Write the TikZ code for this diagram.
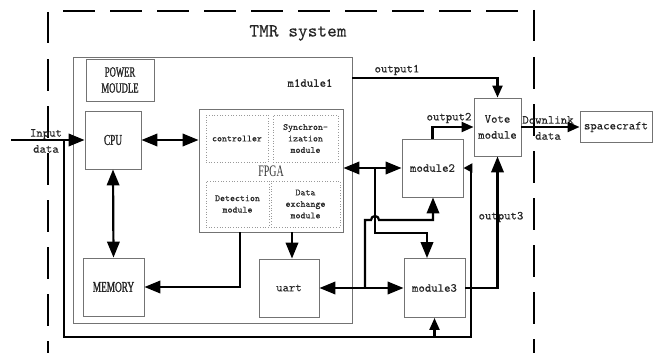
\documentclass[tikz,border=0pt]{standalone}
\usepackage{fontspec}
\newfontfamily\cserif[FakeStretch=0.62, FakeBold=1.2]{Liberation Serif}
\newfontfamily\fserif[FakeStretch=0.62]{Liberation Serif}
\newfontfamily\mymono[FakeBold=0.2]{lmmono10-regular.otf}
\usetikzlibrary{arrows.meta}
\begin{document}
\begin{tikzpicture}[x=1pt,y=-1pt,
  box/.style={draw=black!55, line width=0.9pt, inner sep=0pt, align=center, text=black!85},
  dbox/.style={draw=black!40, dotted, line width=0.7pt, inner sep=0pt, align=center, text=black!85,
               font=\mymono\fontsize{9.5}{11.5}\selectfont},
  mono/.style={inner sep=0pt, align=center, text=black!85, font=\mymono\fontsize{12.2}{16}\selectfont},
  serifc/.style={font=\cserif\fontsize{15}{16}\selectfont},
  frame/.style={line width=2.4pt, dash pattern=on 31.5pt off 15.5pt},
  wire/.style={line width=2.2pt, black},
  tip/.tip={Triangle[length=16pt,width=12.5pt]},
  stip/.tip={Triangle[length=12pt,width=10pt]}
]
\useasboundingbox (0,0) rectangle (655,353);

% dashed TMR frame
\draw[frame] (48,12) -- (48,353);
\draw[frame] (63,11) -- (518,11);
\draw[frame] (534,10) -- (534,353);
\node[mono, font=\mymono\fontsize{18.5}{20}\selectfont] (tmr) at (298,33) {TMR system};

% module1 and its parts
\node[box, minimum width=279, minimum height=266] (m1) at (212.5,190) {};
\node[mono] (m1l) at (310,83) {m1dule1};
\node[box, serifc, font=\cserif\fontsize{14}{16}\selectfont, minimum width=68, minimum height=42] (pow) at (120,80) {POWER\\MOUDLE};
\node[box, serifc, minimum width=56, minimum height=58] (cpu) at (113,140) {CPU};
\node[box, minimum width=144, minimum height=123] (fpga) at (271,170.5) {};
\node[inner sep=0pt, font=\fserif\fontsize{16}{16}\selectfont, text=black!80] (fpgal) at (271,171) {FPGA};
\node[dbox, minimum width=62, minimum height=47] (ctrl) at (237,138.5) {controller};
\node[dbox, minimum width=65, minimum height=47] (sync) at (305.5,138.5) {Synchron-\\ization\\module};
\node[dbox, minimum width=63, minimum height=46] (det) at (237.5,204) {Detection\\module};
\node[dbox, minimum width=69, minimum height=46] (dex) at (305.5,204) {Data\\exchange\\module};
\node[box, serifc, minimum width=61, minimum height=58] (mem) at (113.5,287) {MEMORY};
\node[box, mono, minimum width=60, minimum height=58] (uart) at (289,288) {uart};

% other modules
\node[box, mono, minimum width=61, minimum height=58] (mod2) at (432.5,168) {module2};
\node[box, mono, minimum width=61, minimum height=59] (mod3) at (434.5,288) {module3};
\node[box, mono, minimum width=47, minimum height=58] (vote) at (497.5,127) {Vote\\module};
\node[box, mono, minimum width=72, minimum height=31] (sc) at (616,127) {spacecraft};

% labels
\node[mono] (lin) at (46,141) {Input\\data};
\node[mono] (lo1) at (397,70) {output1};
\node[mono] (lo2) at (449,118) {output2};
\node[mono] (lo3) at (501,217) {output3};
\node[mono] (ldl) at (548,128) {Downlink\\data};

% coordinates
\coordinate (in) at (11,140);
\coordinate (b0) at (64,140);
\coordinate (b1) at (64,337);
\coordinate (b2) at (471,337);
\coordinate (o1) at (352,78);
\coordinate (j1) at (375,168);
\coordinate (j1a) at (375,233);
\coordinate (j1b) at (427,233);
\coordinate (j2) at (365,288);
\coordinate (j2a) at (365,220);
\coordinate (j2b) at (433,220);

% connectors
\draw[wire,-tip] (in) -- (cpu.west);
\draw[wire,tip-tip] (cpu.east) -- (fpga.west |- cpu.east);
\draw[wire,tip-tip] (cpu.south) -- (mem.north);
\draw[wire,-tip] (fpga.south -| 240,0) |- (mem.east);
\draw[wire,-tip] (fpga.south -| 292,0) -- (uart.north -| 292,0);
\draw[wire,tip-tip] (fpga.east |- mod2.west) -- (mod2.west);
\draw[wire,-tip] (j1) -- (j1a) -- (j1b) -- (mod3.north -| j1b);
\draw[wire,tip-tip] (uart.east) -- (mod3.west);
\draw[wire,-tip] (j2) -- (j2a) -- (371,220) arc[start angle=180, end angle=360, radius=4] -- (j2b) -- (mod2.south -| j2b);
\draw[wire,-stip] (o1) -| (vote.north);
\draw[wire,-stip] (mod2.north) |- (vote.west);
\draw[wire,-stip] (vote.east) -- (sc.west);
\draw[wire,-tip] (mod3.east) -| (vote.south);
\draw[wire,-{Triangle[length=9pt,width=9pt]}] (b0) -- (b1) -- (b2) |- (mod2.east);
\draw[wire,-stip] (mod3.south |- b1) -- (mod3.south);
\end{tikzpicture}
\end{document}
